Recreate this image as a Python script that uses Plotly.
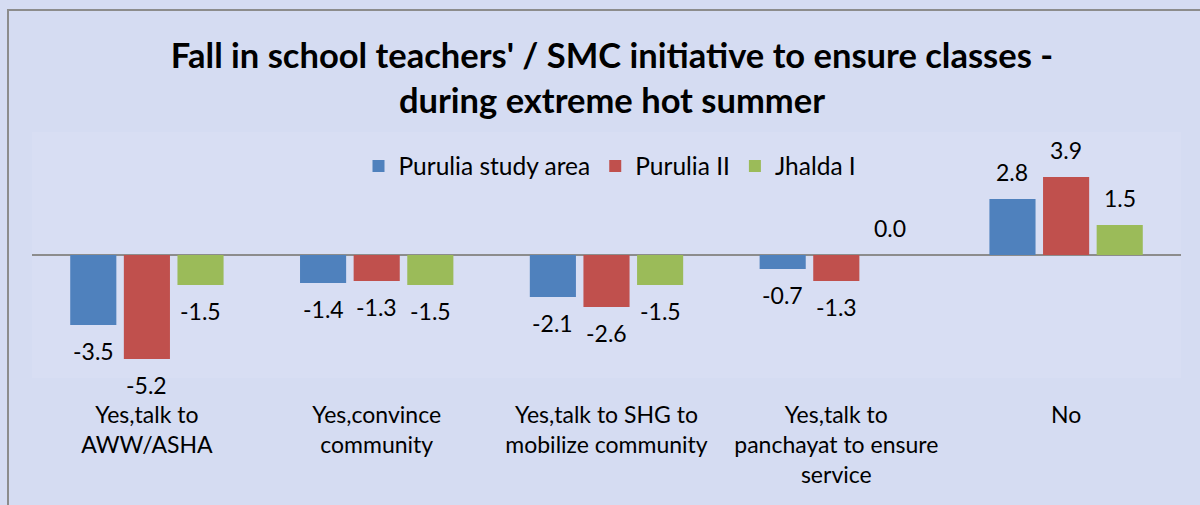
import plotly.graph_objects as go

categories = [
    "Yes,talk to<br>AWW/ASHA",
    "Yes,convince<br>community",
    "Yes,talk to SHG to<br>mobilize community",
    "Yes,talk to<br>panchayat to ensure<br>service",
    "No",
]
series_names = ["Purulia study area", "Purulia II", "Jhalda I"]
purulia_study_area = [-3.5, -1.4, -2.1, -0.7, 2.8]
purulia_ii = [-5.2, -1.3, -2.6, -1.3, 3.9]
jhalda_i = [-1.5, -1.5, -1.5, 0.0, 1.5]
colors = ["#4F81BD", "#C0504D", "#9BBB59"]

title_text = ("Fall in school teachers' / SMC initiative to ensure classes -<br>"
              "during extreme hot summer")

FONT = "Lato"
BG = "#d5dcf2"

series = [purulia_study_area, purulia_ii, jhalda_i]

fig = go.Figure()
for name, vals, col in zip(series_names, series, colors):
    fig.add_trace(go.Bar(
        x=categories, y=vals, name=name,
        marker=dict(color=col, line=dict(width=0)),
        textposition="none",
    ))

bargap = 0.30
bargroupgap = 0.14
slot = (1 - bargap) / len(series)

annotations = []
for j, vals in enumerate(series):
    for i, v in enumerate(vals):
        annotations.append(dict(
            x=i + (j - (len(series) - 1) / 2) * slot, y=v,
            xref="x", yref="y", text=f"{v:.1f}", showarrow=False,
            yshift=27 if v >= 0 else -26,
            font=dict(family=FONT, size=23, color="#000000"),
        ))

L, R, T, B = 32, 19, 132, 127
W, H = 1200, 505
pw = W - L - R
ph = H - T - B

fig.update_layout(
    width=W, height=H,
    margin=dict(l=L, r=R, t=T, b=B),
    paper_bgcolor=BG, plot_bgcolor="#d8def3",
    barmode="group", bargap=bargap, bargroupgap=bargroupgap,
    font=dict(family=FONT, size=23, color="#000000"),
    title=dict(text=title_text, x=612 / W, xanchor="center",
               y=1 - 68 / H, yanchor="middle", yref="container",
               font=dict(family=FONT, size=34.5, color="#000000", weight="bold")),
    legend=dict(orientation="h", x=(610 - L) / pw, xanchor="center",
                y=1 - (166 - T) / ph, yanchor="middle",
                font=dict(family=FONT, size=24.5), bgcolor="rgba(0,0,0,0)"),
    xaxis=dict(showgrid=False, showline=False, ticks="", ticklabelstandoff=21,
               tickfont=dict(family=FONT, size=23)),
    yaxis=dict(range=[-6.15, 6.15], showgrid=False, showticklabels=False,
               zeroline=True, zerolinecolor="#8c8c8c", zerolinewidth=1.5),
    annotations=annotations,
    shapes=[dict(type="rect", xref="paper", yref="paper",
                 x0=(8 - L) / pw, x1=1.1, y0=-1.0, y1=1 + (T - 10) / ph,
                 line=dict(color="#8c8c8c", width=2), fillcolor="rgba(0,0,0,0)",
                 layer="below")],
)

fig.write_html("out.html", config={"displayModeBar": False},
               post_script="document.body.style.margin='0px';document.body.style.overflow='hidden';")
